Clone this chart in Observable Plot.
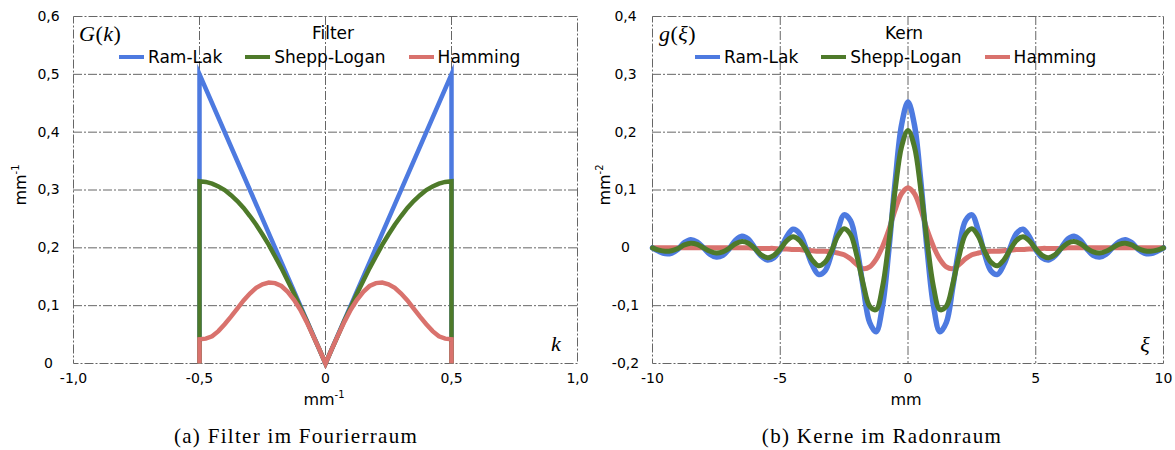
<!DOCTYPE html>
<html><head><meta charset="utf-8">
<script src="https://cdn.jsdelivr.net/npm/d3@7"></script>
<script src="https://cdn.jsdelivr.net/npm/@observablehq/plot@0.6"></script>
<style>
html,body{margin:0;padding:0;background:#fff;}
#root{position:relative;width:1175px;height:450px;overflow:hidden;font-family:"DejaVu Sans",Verdana,sans-serif;color:#000;}
.abs{position:absolute;white-space:nowrap;}
.title{font-size:17px;transform:translate(-50%,-50%);}
.legend{display:flex;align-items:center;font-size:17px;transform:translateY(-50%);}
.legend .sw{display:inline-block;width:25px;height:4px;margin-right:4px;}
.legend .item{display:flex;align-items:center;margin-right:23px;}
.math{font-family:"Liberation Serif","Times New Roman",serif;font-size:22px;letter-spacing:0.5px;transform:translateY(-50%);}
.mathc{font-family:"Liberation Serif","Times New Roman",serif;font-size:22px;transform:translate(-50%,-50%);}
.ylab{font-size:16px;transform:translate(-50%,-50%) rotate(-90deg);}
.xlab{font-size:16px;transform:translate(-50%,-50%);}
.cap{font-family:"Liberation Serif","Times New Roman",serif;font-size:21px;letter-spacing:1.3px;transform:translate(-50%,-50%);}
sup{font-size:10px;vertical-align:super;line-height:0;}
</style>
</head><body><div id="root"></div>
<script>
// ---------- data: series names ----------
const seriesNames = ["Ram-Lak", "Shepp-Logan", "Hamming"];

// ---------- (a) filters in Fourier space ----------
const ramLakK = [-0.5, -0.5, 0, 0.5, 0.5];
const ramLakG = [0, 0.5, 0, 0.5, 0];

const filterK = [-0.5, -0.5, -0.475, -0.45, -0.425, -0.4, -0.375, -0.35, -0.325, -0.3, -0.275, -0.25, -0.225,
                 -0.2, -0.175, -0.15, -0.125, -0.1, -0.075, -0.05, -0.025, 0,
                 0.025, 0.05, 0.075, 0.1, 0.125, 0.15, 0.175, 0.2, 0.225, 0.25, 0.275, 0.3, 0.325,
                 0.35, 0.375, 0.4, 0.425, 0.45, 0.475, 0.5, 0.5];
const sheppLoganG = [0, 0.315, 0.314, 0.311, 0.306, 0.300, 0.291, 0.281, 0.269, 0.255, 0.240, 0.223, 0.205,
                     0.185, 0.165, 0.143, 0.121, 0.097, 0.074, 0.049, 0.025, 0,
                     0.025, 0.049, 0.074, 0.097, 0.121, 0.143, 0.165, 0.185, 0.205, 0.223, 0.240, 0.255, 0.269,
                     0.281, 0.291, 0.300, 0.306, 0.311, 0.314, 0.315, 0];
const hammingG = [0, 0.042, 0.043, 0.047, 0.056, 0.068, 0.081, 0.095, 0.109, 0.121, 0.131, 0.137, 0.140,
                  0.139, 0.134, 0.124, 0.110, 0.093, 0.072, 0.049, 0.025, 0,
                  0.025, 0.049, 0.072, 0.093, 0.110, 0.124, 0.134, 0.139, 0.140, 0.137, 0.131, 0.121, 0.109,
                  0.095, 0.081, 0.068, 0.056, 0.047, 0.043, 0.042, 0];

const leftXTicks = [-1, -0.5, 0, 0.5, 1];
const leftXTickLabels = ["-1,0", "-0,5", "0", "0,5", "1,0"];
const leftYTicks = [0, 0.1, 0.2, 0.3, 0.4, 0.5, 0.6];
const leftYTickLabels = ["0", "0,1", "0,2", "0,3", "0,4", "0,5", "0,6"];

// ---------- (b) kernels in Radon space ----------
const xi = [-10, -9.75, -9.5, -9.25, -9, -8.75, -8.5, -8.25, -8, -7.75, -7.5, -7.25, -7, -6.75, -6.5, -6.25,
            -6, -5.75, -5.5, -5.25, -5, -4.75, -4.5, -4.25, -4, -3.75, -3.5, -3.25, -3, -2.75, -2.5, -2.25,
            -2, -1.75, -1.5, -1.25, -1, -0.75, -0.5, -0.25, 0, 0.25, 0.5, 0.75, 1, 1.25, 1.5, 1.75,
            2, 2.25, 2.5, 2.75, 3, 3.25, 3.5, 3.75, 4, 4.25, 4.5, 4.75, 5, 5.25, 5.5, 5.75,
            6, 6.25, 6.5, 6.75, 7, 7.25, 7.5, 7.75, 8, 8.25, 8.5, 8.75, 9, 9.25, 9.5, 9.75, 10];
const ramLakKernel = [0.000, -0.006, -0.010, -0.009, -0.002, 0.009, 0.014, 0.010, 0.000, -0.011, -0.016, -0.013,
  -0.002, 0.013, 0.020, 0.015, 0.000, -0.014, -0.021, -0.017, -0.003, 0.019, 0.032, 0.025, 0.000, -0.029,
  -0.046, -0.040, -0.011, 0.030, 0.057, 0.047, 0.000, -0.069, -0.129, -0.145, -0.101, -0.004, 0.116, 0.213,
  0.252,
  0.213, 0.116, -0.004, -0.101, -0.145, -0.129, -0.069, 0.000, 0.047, 0.057, 0.030, -0.011, -0.040, -0.046,
  -0.029, 0.000, 0.025, 0.032, 0.019, -0.003, -0.017, -0.021, -0.014, 0.000, 0.015, 0.020, 0.013, -0.002,
  -0.013, -0.016, -0.011, 0.000, 0.010, 0.014, 0.009, -0.002, -0.009, -0.010, -0.006, 0.000];
const sheppLoganKernel = [0.000, -0.004, -0.006, -0.005, -0.001, 0.005, 0.008, 0.006, 0.000, -0.006, -0.009, -0.007,
  -0.001, 0.007, 0.011, 0.008, -0.001, -0.012, -0.017, -0.013, -0.002, 0.012, 0.019, 0.013, -0.003, -0.021,
  -0.031, -0.025, -0.006, 0.020, 0.033, 0.023, -0.014, -0.063, -0.101, -0.107, -0.068, 0.010, 0.101, 0.175,
  0.203,
  0.175, 0.101, 0.010, -0.068, -0.107, -0.101, -0.063, -0.014, 0.023, 0.033, 0.020, -0.006, -0.025, -0.031,
  -0.021, -0.003, 0.013, 0.019, 0.012, -0.002, -0.013, -0.017, -0.012, -0.001, 0.008, 0.011, 0.007, -0.001,
  -0.007, -0.009, -0.006, 0.000, 0.006, 0.008, 0.005, -0.001, -0.005, -0.006, -0.004, 0.000];
const hammingKernel = [0, 0, 0, 0, 0, 0, 0, 0, 0, 0, 0, 0, 0, 0, 0, 0,
  -0.001, -0.001, -0.001, -0.001, -0.002, -0.002, -0.003, -0.003, -0.004, -0.005, -0.006, -0.006, -0.007,
  -0.009, -0.012, -0.019, -0.029, -0.036, -0.033, -0.020, 0.002, 0.031, 0.066, 0.094,
  0.104,
  0.094, 0.066, 0.031, 0.002, -0.020, -0.033, -0.036, -0.029, -0.019, -0.012, -0.009, -0.007, -0.006, -0.006,
  -0.005, -0.004, -0.003, -0.003, -0.002, -0.002, -0.001, -0.001, -0.001, -0.001,
  0, 0, 0, 0, 0, 0, 0, 0, 0, 0, 0, 0, 0, 0, 0, 0];

const rightXTicks = [-10, -5, 0, 5, 10];
const rightXTickLabels = ["-10", "-5", "0", "5", "10"];
const rightYTicks = [-0.2, -0.1, 0, 0.1, 0.2, 0.3, 0.4];
const rightYTickLabels = ["-0,2", "-0,1", "0", "0,1", "0,2", "0,3", "0,4"];

// ---------- styles ----------
const colors = {"Ram-Lak": "#4d7ae0", "Shepp-Logan": "#4e7a2a", "Hamming": "#d9726d"};
const grid = {stroke: "#666", strokeOpacity: 1, strokeWidth: 1, strokeDasharray: "9,2,2,2"};

function rows(xs, ys) { return xs.map((x, i) => ({x, y: ys[i]})); }
function fmt(ticks, labels) { const m = new Map(ticks.map((t, i) => [t, labels[i]])); return d => m.get(d); }

const axisFont = {fontFamily: "DejaVu Sans, Verdana, sans-serif", fontSize: "14px", color: "#000", background: "transparent", overflow: "visible"};
const sharp = {strokeWidth: 4.5, strokeLinejoin: "miter", strokeLinecap: "butt", strokeMiterlimit: 20};

const left = Plot.plot({
  width: 590, height: 410, marginLeft: 73, marginRight: 13, marginTop: 16, marginBottom: 47,
  style: axisFont,
  x: {domain: [-1, 1]},
  y: {domain: [0, 0.6]},
  marks: [
    Plot.gridX(leftXTicks.slice(1, -1), grid),
    Plot.gridY(leftYTicks.slice(1, -1), grid),
    Plot.frame(grid),
    Plot.axisX(leftXTicks, {tickSize: 0, tickPadding: 10, tickFormat: fmt(leftXTicks, leftXTickLabels), label: null, fontSize: 14}),
    Plot.axisY(leftYTicks, {tickSize: 0, tickPadding: 25, textAnchor: "middle", tickFormat: fmt(leftYTicks, leftYTickLabels), label: null, fontSize: 14}),
    Plot.line(rows(ramLakK, ramLakG), {x: "x", y: "y", stroke: colors["Ram-Lak"], ...sharp}),
    Plot.line(rows(filterK, sheppLoganG), {x: "x", y: "y", stroke: colors["Shepp-Logan"], ...sharp}),
    Plot.line(rows(filterK, hammingG), {x: "x", y: "y", stroke: colors["Hamming"], ...sharp})
  ]
});

const right = Plot.plot({
  width: 585, height: 410, marginLeft: 62, marginRight: 12, marginTop: 16, marginBottom: 47,
  style: axisFont,
  x: {domain: [-10, 10]},
  y: {domain: [-0.2, 0.4]},
  marks: [
    Plot.gridX(rightXTicks.slice(1, -1), grid),
    Plot.gridY(rightYTicks.slice(1, -1), grid),
    Plot.frame(grid),
    Plot.axisX(rightXTicks, {tickSize: 0, tickPadding: 10, tickFormat: fmt(rightXTicks, rightXTickLabels), label: null, fontSize: 14}),
    Plot.axisY(rightYTicks, {tickSize: 0, tickPadding: 27, textAnchor: "middle", tickFormat: fmt(rightYTicks, rightYTickLabels), label: null, fontSize: 14}),
    Plot.line(rows(xi, hammingKernel), {x: "x", y: "y", stroke: colors["Hamming"], strokeWidth: 5, curve: "catmull-rom"}),
    Plot.line(rows(xi, ramLakKernel), {x: "x", y: "y", stroke: colors["Ram-Lak"], strokeWidth: 5.5, curve: "catmull-rom"}),
    Plot.line(rows(xi, sheppLoganKernel), {x: "x", y: "y", stroke: colors["Shepp-Logan"], strokeWidth: 5, curve: "catmull-rom"})
  ]
});

const root = document.getElementById("root");
function place(el, x, y) { el.style.position = "absolute"; el.style.left = x + "px"; el.style.top = y + "px"; root.appendChild(el); return el; }
function div(cls, html, x, y) { const d = document.createElement("div"); d.className = "abs " + cls; d.innerHTML = html; return place(d, x, y); }

place(left, 0, 0);
place(right, 590, 0);

function legend(x, y) {
  const d = document.createElement("div");
  d.className = "abs legend";
  seriesNames.forEach(name => {
    const it = document.createElement("div"); it.className = "item";
    const sw = document.createElement("span"); sw.className = "sw"; sw.style.background = colors[name];
    const tx = document.createElement("span"); tx.textContent = name;
    it.appendChild(sw); it.appendChild(tx); d.appendChild(it);
  });
  return place(d, x, y);
}

// panel (a) annotations
div("title", "Filter", 333, 33);
legend(119, 57);
div("math", "<i>G</i>(<i>k</i>)", 79, 34);
div("mathc", "<i>k</i>", 556, 344);
div("ylab", "mm<sup>-1</sup>", 20, 185);
div("xlab", "mm<sup>-1</sup>", 324, 399);
div("cap", "(a) Filter im Fourierraum", 296, 436);

// panel (b) annotations
div("title", "Kern", 904, 33);
legend(695, 57);
div("math", "<i>g</i>(<i>ξ</i>)", 659, 34);
div("mathc", "<i>ξ</i>", 1145, 345);
div("ylab", "mm<sup>-2</sup>", 604, 185);
div("xlab", "mm", 906, 399);
div("cap", "(b) Kerne im Radonraum", 882, 436);
</script>
</body></html>
